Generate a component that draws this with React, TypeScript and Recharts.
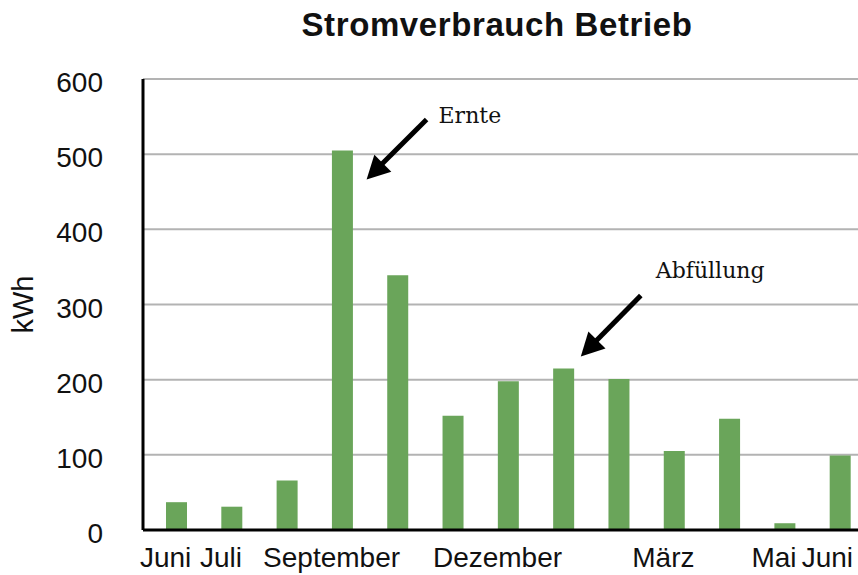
import React from "react";
import {
  Bar,
  BarChart,
  CartesianGrid,
  Label,
  ReferenceDot,
  XAxis,
  YAxis,
} from "recharts";

// one bar per month, June to June
const periods = [
  "2018-06", "2018-07", "2018-08", "2018-09", "2018-10", "2018-11", "2018-12",
  "2019-01", "2019-02", "2019-03", "2019-04", "2019-05", "2019-06",
];
const months = [
  "Juni", "Juli", "August", "September", "Oktober", "November", "Dezember",
  "Januar", "Februar", "März", "April", "Mai", "Juni",
];
// only some month names are printed under the axis
const shownMonths = ["Juni", "Juli", "September", "Dezember", "März", "Mai"];
const kwh = [37, 31, 66, 505, 339, 152, 198, 215, 201, 105, 148, 9, 99];
const yTicks = [0, 100, 200, 300, 400, 500, 600];

const notes = [
  { period: "2018-09", text: "Ernte" },
  { period: "2019-01", text: "Abfüllung" },
];

const SANS = "'Liberation Sans', Arial, Helvetica, sans-serif";
const SERIF = "'DejaVu Serif', Georgia, serif";
const GREEN = "#6aa55a";

const data = periods.map((p, i) => ({ period: p, month: months[i], kwh: kwh[i] }));

const XTick = (props: any) => {
  const { x, y, payload } = props;
  const i = periods.indexOf(payload.value);
  const label = shownMonths.includes(months[i]) ? months[i] : "";
  if (!label) return null;
  const shift = i === periods.length - 1 ? -13 : -11;
  return (
    <text x={x + shift} y={y} dy={37} textAnchor="middle" fontFamily={SANS} fontSize={28} fill="#111">
      {label}
    </text>
  );
};

const YTick = (props: any) => {
  const { x, y, payload } = props;
  return (
    <text x={x + 1} y={y} dy={13} textAnchor="end" fontFamily={SANS} fontSize={28} fill="#111">
      {payload.value}
    </text>
  );
};

// arrow + caption, placed relative to the bar top
const arrowNote = (text: string, tail: [number, number], tip: [number, number], txt: [number, number]) =>
  (props: any) => {
    const { cx, cy } = props;
    const x1 = cx + tail[0], y1 = cy + tail[1];
    const x2 = cx + tip[0], y2 = cy + tip[1];
    const dx = x2 - x1, dy = y2 - y1;
    const len = Math.hypot(dx, dy);
    const ux = dx / len, uy = dy / len;
    const head = 23, half = 12;
    const bx = x2 - ux * head, by = y2 - uy * head;
    const pts = `${x2},${y2} ${bx - uy * half},${by + ux * half} ${bx + uy * half},${by - ux * half}`;
    return (
      <g>
        <line x1={x1} y1={y1} x2={bx + ux * 2} y2={by + uy * 2} stroke="#000" strokeWidth={5} />
        <polygon points={pts} fill="#000" />
        <text x={cx + txt[0]} y={cy + txt[1]} fontFamily={SERIF} fontSize={22} fill="#111">
          {text}
        </text>
      </g>
    );
  };

const shapes = [
  arrowNote(notes[0].text, [84, -31], [24, 29], [96, -27]),
  arrowNote(notes[1].text, [77, -73], [17, -12], [92, -90]),
];

export default function App() {
  return (
    <div
      style={{
        position: "absolute",
        left: 0,
        top: 0,
        width: 858,
        height: 575,
        overflow: "hidden",
        background: "#fff",
      }}
    >
      <div
        style={{
          position: "absolute",
          left: 497,
          top: 8,
          transform: "translateX(-50%)",
          whiteSpace: "nowrap",
          fontFamily: SANS,
          fontWeight: "bold",
          fontSize: 33,
          letterSpacing: "0.6px",
          lineHeight: "33px",
          color: "#111",
        }}
      >
        Stromverbrauch Betrieb
      </div>
      <BarChart width={868} height={575} data={data} margin={{ top: 79, right: 0, bottom: 0, left: 0 }}>
        <CartesianGrid vertical={false} stroke="#b3b3b3" strokeWidth={2} />
        <XAxis
          dataKey="period"
          height={45}
          interval={0}
          padding={{ left: 6, right: 0 }}
          tickLine={false}
          tickSize={0}
          tickMargin={0}
          axisLine={{ stroke: "#000", strokeWidth: 3 }}
          tick={<XTick />}
        />
        <YAxis
          width={143}
          domain={[0, 600]}
          ticks={yTicks}
          interval={0}
          tickLine={false}
          tickSize={0}
          tickMargin={41}
          axisLine={{ stroke: "#000", strokeWidth: 3 }}
          tick={<YTick />}
        >
          <Label
            value="kWh"
            angle={-90}
            position="insideLeft"
            offset={23}
            style={{ textAnchor: "middle", fontFamily: SANS, fontSize: 29, fill: "#111" }}
          />
        </YAxis>
        <Bar dataKey="kwh" fill={GREEN} barSize={21} isAnimationActive={false} />
        {notes.map((n, i) => (
          <ReferenceDot
            key={n.period}
            x={n.period}
            y={kwh[periods.indexOf(n.period)]}
            r={0}
            shape={shapes[i]}
          />
        ))}
      </BarChart>
    </div>
  );
}
